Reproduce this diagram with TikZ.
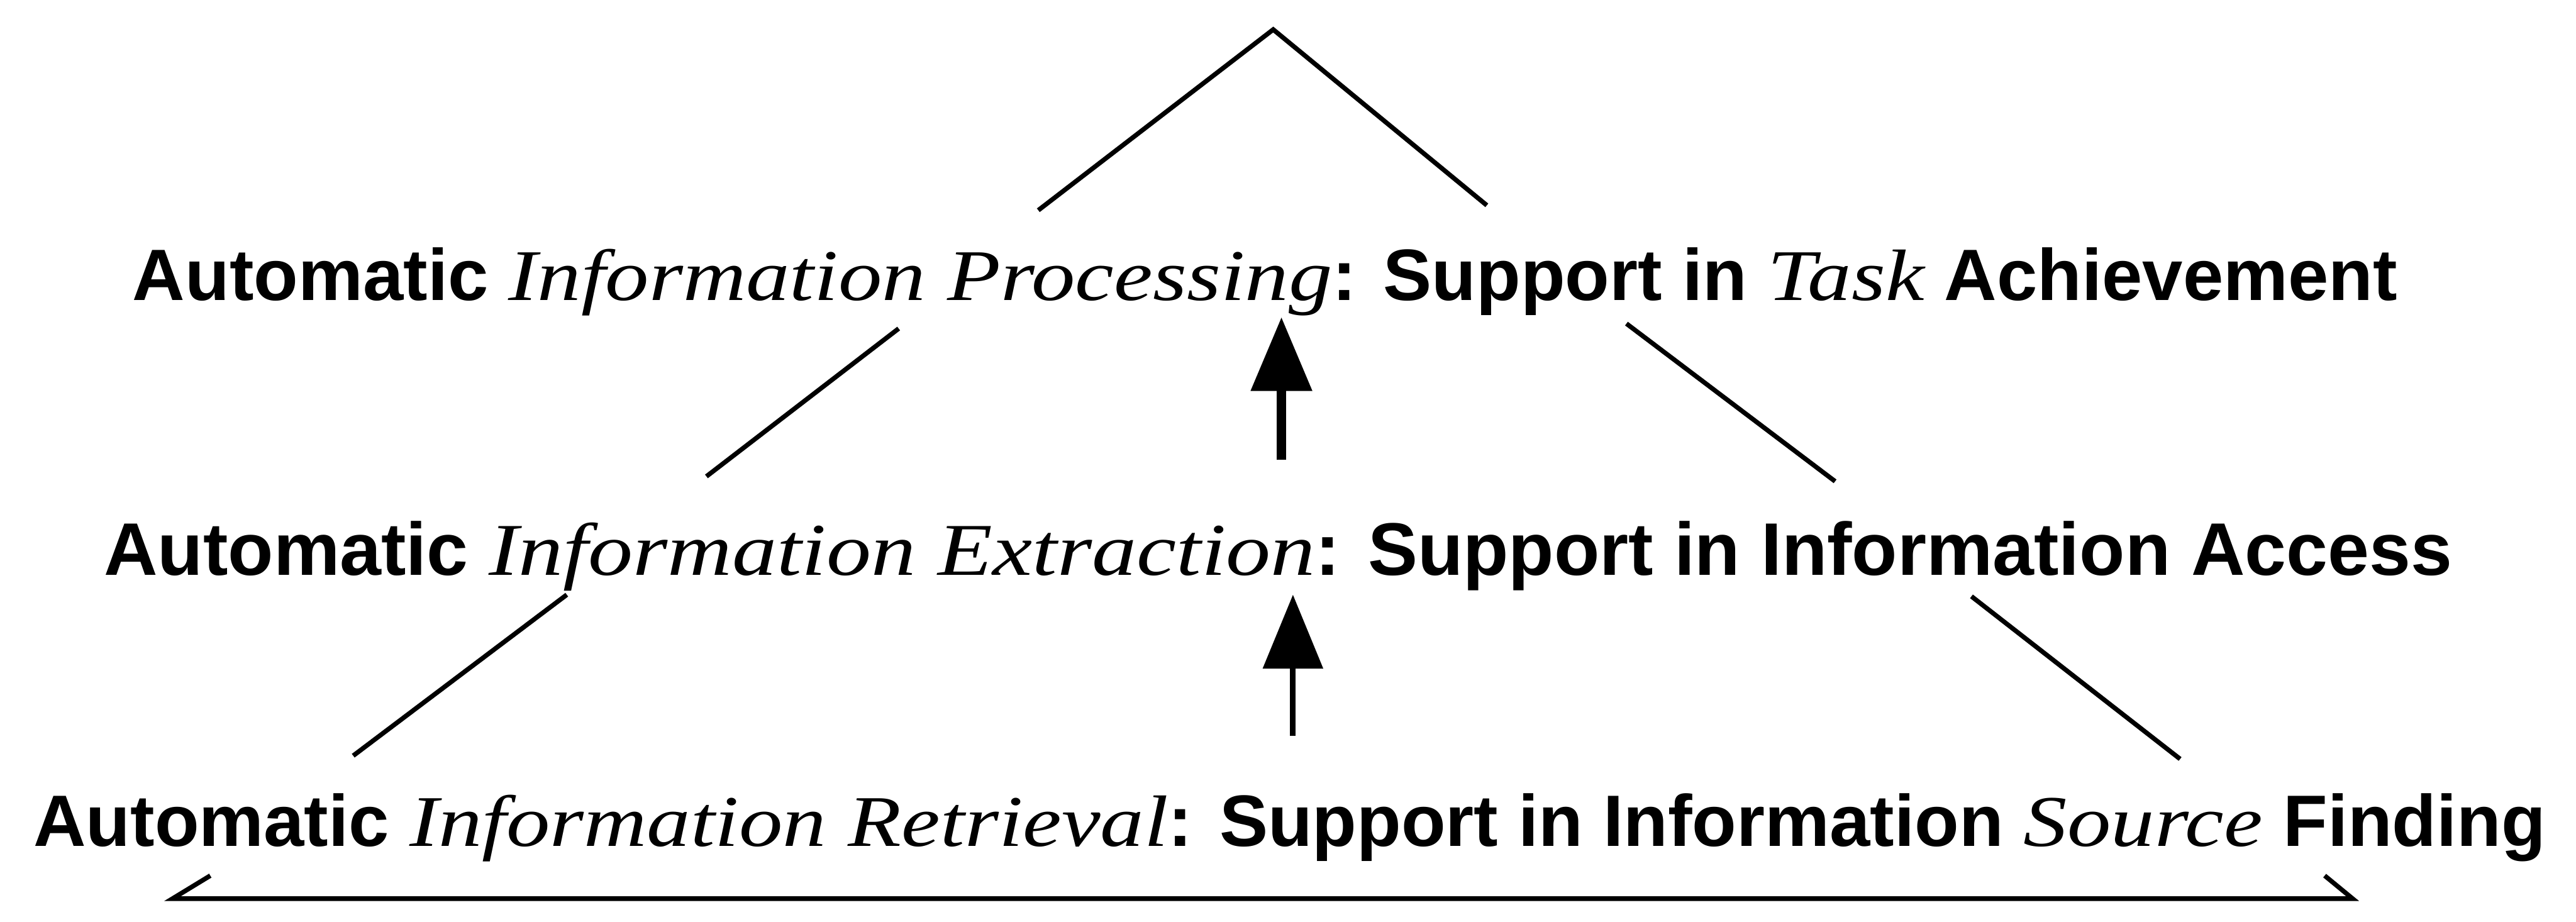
\documentclass[tikz,border=0pt]{standalone}
\usepackage{fontspec}
\setmainfont{Liberation Sans}
\newfontfamily\itfont[FakeStretch=1.2]{Liberation Serif}
\usetikzlibrary{arrows.meta}
\newcommand{\ital}[1]{{\itfont\mdseries\itshape #1}}

\begin{document}
\begin{tikzpicture}[
      level/.style={anchor=base, inner sep=0pt, font=\fontsize{12.6pt}{14pt}\selectfont\bfseries},
      side/.style={line width=0.8pt},
      uparrow/.style={-{Triangle[length=0.45cm, width=0.36cm]}}
    ]
      \useasboundingbox (0,0) rectangle (15.68,5.61);
      % the three levels
      \node[level] (proc) at (7.70,3.78) {Automatic \ital{Information Processing}: Support in \ital{Task} Achievement};
      \node[level, font=\fontsize{12.9pt}{14pt}\selectfont\bfseries] (extr) at (7.78,2.11) {Automatic \ital{Information Extraction}: Support in Information Access};
      \node[level] (retr) at (7.85,0.46) {Automatic \ital{Information Retrieval}: Support in Information \ital{Source} Finding};

      % arrow ends
      \coordinate (a1) at (7.80,2.81);
      \coordinate (b1) at (7.80,3.68);
      \coordinate (a2) at (7.87,1.13);
      \coordinate (b2) at (7.87,1.99);
      \draw[uparrow, line width=1.7pt] (a1) -- (b1);
      \draw[uparrow, line width=1pt] (a2) -- (b2);

      % pyramid sides
      \draw[side] (6.32,4.33) -- (7.75,5.43) -- (9.05,4.36);
      \draw[side] (5.47,3.61) -- (4.30,2.71);
      \draw[side] (9.90,3.64) -- (11.17,2.68);
      \draw[side] (3.45,1.99) -- (2.15,1.01);
      \draw[side] (12.00,1.98) -- (13.27,0.99);
      \draw[side] (1.28,0.28) -- (1.05,0.14) -- (14.32,0.14) -- (14.15,0.28);
    \end{tikzpicture}
\end{document}
